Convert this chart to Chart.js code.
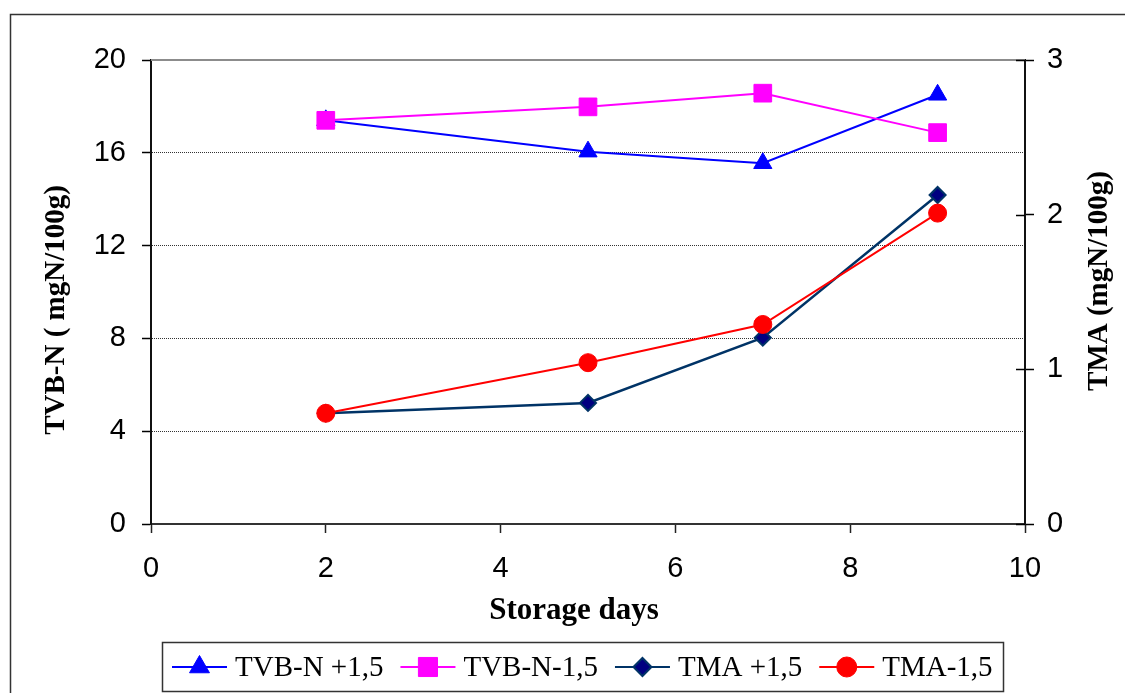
<!DOCTYPE html>
<html>
<head>
<meta charset="utf-8">
<script src="https://cdn.jsdelivr.net/npm/chart.js@4"></script>
<style>
  body { margin: 0; background: #fff; }
  canvas { display: block; }
</style>
</head>
<body>
<canvas id="chart" width="1125" height="693"></canvas>
<script>
// storage days and measured values
const days = [2, 5, 7, 9];
const tvbnPlus = [17.4, 16.05, 15.55, 18.5];
const tvbnMinus = [17.4, 17.98, 18.57, 16.87];
const tmaPlus = [0.716, 0.783, 1.205, 2.127];
const tmaMinus = [0.716, 1.043, 1.29, 2.01];

const seriesNames = ['TVB-N +1,5', 'TVB-N-1,5', 'TMA +1,5', 'TMA-1,5'];
const xTicks = [0, 2, 4, 6, 8, 10];
const leftTicks = [0, 4, 8, 12, 16, 20];
const rightTicks = [0, 1, 2, 3];

const xTitle = 'Storage days';
const leftTitle = 'TVB-N ( mgN/100g)';
const rightTitle = 'TMA (mgN/100g)';

function pts(ys) {
    return days.map((d, i) => ({ x: d, y: ys[i] }));
}

function setTicks(list) {
    return function(scale) {
        scale.ticks = list.map(v => ({ value: v }));
    };
}

const tickFont = { family: 'Liberation Sans', size: 29 };

function drawText(ctx, text, x, y, angle, font) {
    ctx.save();
    ctx.fillStyle = '#000';
    ctx.font = font;
    ctx.textAlign = 'center';
    ctx.textBaseline = 'middle';
    ctx.translate(x, y);
    ctx.rotate(angle);
    ctx.fillText(text, 0, 0);
    ctx.restore();
}

// frame, top border of plot, inner ticks on right axis, axis titles
const decorPlugin = {
    id: 'decor',
    beforeDraw(chart) {
        const ctx = chart.ctx;
        ctx.save();
        ctx.fillStyle = '#fff';
        ctx.fillRect(0, 0, chart.width, chart.height);
        ctx.strokeStyle = '#333';
        ctx.lineWidth = 1.5;
        ctx.strokeRect(10.5, 14.5, chart.width + 40, chart.height + 40);
        ctx.restore();
    },
    afterDraw(chart) {
        const ctx = chart.ctx;
        const area = chart.chartArea;
        const y1 = chart.scales.y1;
        ctx.save();
        ctx.strokeStyle = '#8c8c8c';
        ctx.lineWidth = 2;
        ctx.beginPath();
        ctx.moveTo(area.left, area.top);
        ctx.lineTo(area.right, area.top);
        ctx.stroke();

        ctx.strokeStyle = '#000';
        ctx.lineWidth = 1.5;
        rightTicks.forEach(v => {
            const py = Math.round(y1.getPixelForValue(v)) + 0.5;
            ctx.beginPath();
            ctx.moveTo(area.right - 9, py);
            ctx.lineTo(area.right, py);
            ctx.stroke();
        });
        ctx.restore();

        const mid = (area.top + area.bottom) / 2;
        drawText(ctx, leftTitle, 57, mid + 18, -Math.PI / 2, 'bold 29px "Liberation Serif"');
        drawText(ctx, rightTitle, 1100, mid - 11, -Math.PI / 2, 'bold 29px "Liberation Serif"');
        drawText(ctx, xTitle, 574, 611, 0, 'bold 31px "Liberation Serif"');
    }
};

// boxed legend with line + marker, like the spreadsheet original
const legendPlugin = {
    id: 'boxLegend',
    afterDraw(chart) {
        const ctx = chart.ctx;
        const cy = 667;
        let x = 172;
        ctx.save();
        ctx.font = '29px "Liberation Serif"';
        ctx.textBaseline = 'middle';
        ctx.textAlign = 'left';
        chart.data.datasets.forEach(ds => {
            ctx.strokeStyle = ds.borderColor;
            ctx.lineWidth = 2;
            ctx.beginPath();
            ctx.moveTo(x, cy);
            ctx.lineTo(x + 55, cy);
            ctx.stroke();
            ctx.fillStyle = ds.pointBackgroundColor;
            ctx.strokeStyle = ds.pointBorderColor;
            ctx.lineWidth = ds.pointBorderWidth;
            Chart.helpers.drawPoint(ctx, {
                pointStyle: ds.pointStyle,
                radius: ds.pointRadius + 1,
                borderWidth: ds.pointBorderWidth,
                rotation: 0
            }, x + 27.5, cy);
            ctx.fillStyle = '#000';
            ctx.fillText(ds.label, x + 63, cy + 1);
            x += 63 + ctx.measureText(ds.label).width + 17;
        });
        ctx.strokeStyle = '#333';
        ctx.lineWidth = 1.5;
        ctx.strokeRect(162.5, 642.5, 841, 49);
        ctx.restore();
    }
};

new Chart(document.getElementById('chart').getContext('2d'), {
    type: 'line',
    data: {
        datasets: [
            {
                label: seriesNames[0],
                data: pts(tvbnPlus),
                yAxisID: 'y',
                borderColor: '#0000ff',
                borderWidth: 2,
                pointStyle: 'triangle',
                pointRadius: 10.5,
                pointBackgroundColor: '#0000ff',
                pointBorderColor: '#0000ff',
                pointBorderWidth: 1,
                order: 4
            },
            {
                label: seriesNames[1],
                data: pts(tvbnMinus),
                yAxisID: 'y',
                borderColor: '#ff00ff',
                borderWidth: 2,
                pointStyle: 'rect',
                pointRadius: 12.5,
                pointBackgroundColor: '#ff00ff',
                pointBorderColor: '#ff00ff',
                pointBorderWidth: 1,
                order: 3
            },
            {
                label: seriesNames[2],
                data: pts(tmaPlus),
                yAxisID: 'y1',
                borderColor: '#003366',
                borderWidth: 2.5,
                pointStyle: 'rectRot',
                pointRadius: 8,
                pointBackgroundColor: '#000080',
                pointBorderColor: '#003366',
                pointBorderWidth: 2,
                order: 2
            },
            {
                label: seriesNames[3],
                data: pts(tmaMinus),
                yAxisID: 'y1',
                borderColor: '#ff0000',
                borderWidth: 2,
                pointStyle: 'circle',
                pointRadius: 9,
                pointBackgroundColor: '#ff0000',
                pointBorderColor: '#ff0000',
                pointBorderWidth: 1,
                order: 1
            }
        ]
    },
    options: {
        responsive: false,
        animation: false,
        devicePixelRatio: 1,
        layout: { padding: { top: 60, left: 0, right: 0, bottom: 64 } },
        plugins: {
            legend: { display: false },
            tooltip: { enabled: false }
        },
        elements: { line: { tension: 0 } },
        scales: {
            x: {
                type: 'linear',
                position: 'bottom',
                min: 0,
                max: 10,
                afterBuildTicks: setTicks(xTicks),
                afterFit: s => { s.height = 105; },
                ticks: { font: tickFont, color: '#000', padding: 19 },
                grid: { drawOnChartArea: false, tickLength: 9, tickColor: '#222', tickWidth: 1.5 },
                border: { color: '#333', width: 2 }
            },
            y: {
                position: 'left',
                min: 0,
                max: 20,
                afterBuildTicks: setTicks(leftTicks),
                afterFit: s => { s.width = 151; },
                ticks: { font: tickFont, color: '#000', padding: 16 },
                grid: {
                    color: c => (c.tick && (c.tick.value === 0 || c.tick.value === 20)) ? 'rgba(0,0,0,0)' : '#333',
                    lineWidth: 1,
                    tickLength: 9,
                    tickColor: '#000',
                    tickWidth: 1.5,
                    tickBorderDash: []
                },
                border: { color: '#111', width: 2, dash: [1, 1] }
            },
            y1: {
                position: 'right',
                min: 0,
                max: 3,
                afterBuildTicks: setTicks(rightTicks),
                afterFit: s => { s.width = 100; },
                ticks: { font: tickFont, color: '#000', padding: 13 },
                grid: { drawOnChartArea: false, tickLength: 9, tickColor: '#000', tickWidth: 1.5 },
                border: { color: '#111', width: 2 }
            }
        }
    },
    plugins: [decorPlugin, legendPlugin]
});
</script>
</body>
</html>
